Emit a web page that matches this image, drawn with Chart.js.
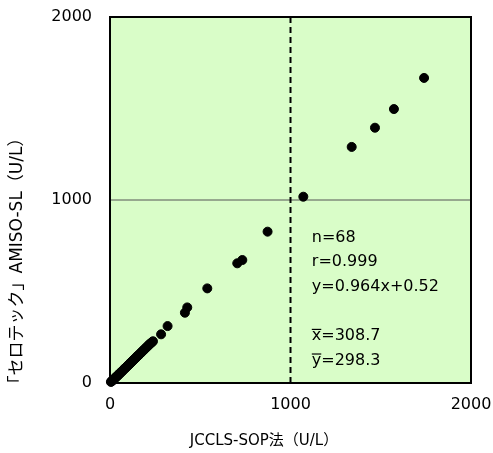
<!DOCTYPE html>
<html>
<head>
<meta charset="utf-8">
<script src="https://cdn.jsdelivr.net/npm/chart.js@4"></script>
<style>
  html, body { margin: 0; padding: 0; background: #fff; }
  #wrap { width: 493px; height: 453px; }
</style>
</head>
<body>
<div id="wrap"><canvas id="myChart" width="493" height="453"></canvas></div>
<script>
// JCCLS-SOP (x) vs セロテック AMISO-SL (y)
const xLow = [5, 8, 12, 15, 18, 22, 25, 28, 32, 35, 38, 42, 45, 48, 52, 55, 60, 64, 68, 72,
  76, 80, 85, 90, 95, 100, 104, 108, 112, 118, 122, 126, 130, 135, 140, 145, 150, 155, 160, 165,
  170, 175, 180, 185, 190, 195, 200, 205, 210, 214, 218, 222, 226, 232, 238]
const yLow = [6, 8, 12, 14, 18, 21, 25, 27, 31, 34, 37, 40, 44, 46, 50, 54, 57, 62, 65, 70,
  73, 78, 82, 86, 92, 97, 100, 104, 109, 113, 118, 121, 126, 130, 135, 139, 145, 150, 153, 159,
  164, 168, 174, 178, 183, 188, 193, 197, 203, 206, 210, 214, 218, 222, 228]
const xHigh = [283, 319, 415, 428, 539, 705, 733, 873, 1071, 1339, 1468, 1573, 1740]
const yHigh = [266, 311, 384, 413, 517, 654, 672, 827, 1018, 1290, 1395, 1497, 1667]
const tickValues = [0, 1000, 2000]
const statLines = ['n=68', 'r=0.999', 'y=0.964x+0.52', '', 'x=308.7', 'y=298.3']

const FONT = '"DejaVu Sans", "Noto Sans CJK JP", sans-serif'
const data = []
xLow.concat(xHigh).forEach((x, i) => {
    data.push({ x: x, y: yLow.concat(yHigh)[i] })
})

const ctx = document.getElementById('myChart');

const plotDeco = {
    id: 'plotDeco',
    beforeDraw: (chart) => {
        const { ctx, chartArea: a } = chart;
        ctx.save();
        ctx.fillStyle = '#d9fdc8';
        ctx.fillRect(a.left, a.top, a.right - a.left, a.bottom - a.top);
        ctx.restore();
    },
    beforeDatasetsDraw: (chart) => {
        const { ctx, chartArea: a, scales } = chart;
        ctx.save();
        // horizontal line at 1000
        const y1 = scales.y.getPixelForValue(1000);
        ctx.strokeStyle = '#555';
        ctx.lineWidth = 1;
        ctx.beginPath();
        ctx.moveTo(a.left, y1); ctx.lineTo(a.right, y1);
        ctx.stroke();
        // dashed vertical at 1000
        const x1 = scales.x.getPixelForValue(1000);
        ctx.strokeStyle = '#000';
        ctx.lineWidth = 2;
        ctx.setLineDash([6, 4]);
        ctx.beginPath();
        ctx.moveTo(x1, a.top); ctx.lineTo(x1, a.bottom);
        ctx.stroke();
        ctx.setLineDash([]);
        // box
        ctx.lineWidth = 2;
        ctx.strokeRect(a.left, a.top, a.right - a.left, a.bottom - a.top);

        // stats text
        ctx.fillStyle = '#000';
        ctx.font = '16px ' + FONT;
        ctx.textBaseline = 'middle';
        ctx.textAlign = 'left';
        const tx = scales.x.getPixelForValue(1118);
        let ty = scales.y.getPixelForValue(795);
        statLines.forEach((s, i) => {
            const yy = ty + i * 24.6;
            if (s) {
                ctx.fillText(s, tx, yy);
                if (i >= 4) {
                    const w = ctx.measureText(s[0]).width;
                    ctx.lineWidth = 1.2;
                    ctx.beginPath();
                    ctx.moveTo(tx, yy - 6.5); ctx.lineTo(tx + w, yy - 6.5);
                    ctx.stroke();
                }
            }
        });

        // axis titles
        ctx.font = '15px ' + FONT;
        ctx.textAlign = 'center';
        ctx.fillText('JCCLS-SOP法（U/L）', 264, 441);
        ctx.font = '17px ' + FONT;
        ctx.translate(18, 261);
        ctx.rotate(-Math.PI / 2);
        ctx.fillText('「セロテック」AMISO-SL（U/L）', 0, 0);
        ctx.restore();
    }
}

const chart = new Chart(ctx, {
    type: 'scatter',
    data: {
        datasets: [{
            data: data,
            backgroundColor: '#000',
            borderColor: '#000',
            pointRadius: 4.5,
            pointHoverRadius: 4.5,
            clip: false
        }]
    },
    options: {
        responsive: false,
        animation: false,
        layout: { padding: { top: 17, right: 22, left: 0, bottom: 0 } },
        plugins: { legend: { display: false }, tooltip: { enabled: false } },
        scales: {
            x: {
                min: 0, max: 2000,
                afterFit: (s) => { s.height = 70; s.paddingLeft = 0; s.paddingRight = 0 },
                afterBuildTicks: (s) => { s.ticks = tickValues.map(v => ({ value: v })) },
                grid: { display: false, drawTicks: false },
                border: { display: false },
                ticks: { color: '#000', padding: 12, maxRotation: 0, font: { size: 16, family: FONT },
                    callback: (v) => String(v) }
            },
            y: {
                min: 0, max: 2000,
                afterFit: (s) => { s.width = 110; s.paddingTop = 0; s.paddingBottom = 0 },
                afterBuildTicks: (s) => { s.ticks = tickValues.map(v => ({ value: v })) },
                grid: { display: false, drawTicks: false },
                border: { display: false },
                ticks: { color: '#000', padding: 18, font: { size: 16, family: FONT },
                    callback: (v) => String(v) }
            }
        }
    },
    plugins: [plotDeco]
})
</script>
</body>
</html>
